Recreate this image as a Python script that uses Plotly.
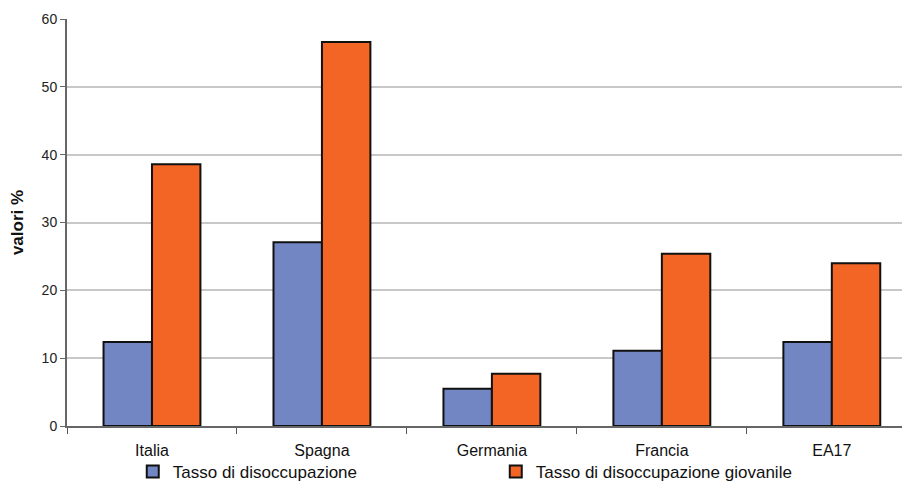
import plotly.graph_objects as go

categories = ["Italia", "Spagna", "Germania", "Francia", "EA17"]
tasso = [12.4, 27.1, 5.5, 11.1, 12.4]
tasso_giovanile = [38.6, 56.6, 7.7, 25.4, 24.0]
y_ticks = [0, 10, 20, 30, 40, 50, 60]

fig = go.Figure()
fig.add_trace(go.Bar(
    x=categories, y=tasso, name="Tasso di disoccupazione",
    marker=dict(color="#7286C3", line=dict(color="#111111", width=2)),
))
fig.add_trace(go.Bar(
    x=categories, y=tasso_giovanile, name="Tasso di disoccupazione giovanile",
    marker=dict(color="#F26524", line=dict(color="#111111", width=2)),
))

# page body has an 8px default margin, so the figure is sized/offset to compensate
fig.update_layout(
    width=902, height=475,
    margin=dict(l=59, r=0, t=11, b=57, autoexpand=False),
    paper_bgcolor="white", plot_bgcolor="white",
    barmode="group", bargap=0.43, bargroupgap=0.0,
    font=dict(family="Liberation Sans, Arial, sans-serif", color="#222222"),
    showlegend=True,
    legend=dict(
        orientation="h", x=0.078, xanchor="left", y=-0.113, yanchor="middle",
        bgcolor="rgba(0,0,0,0)",
        font=dict(size=17, color="#111111"), entrywidth=318, entrywidthmode="pixels",
        itemwidth=30, tracegroupgap=0,
    ),
    xaxis=dict(
        range=[-0.5, 4.46], showline=True, linecolor="#666666", linewidth=2,
        ticks="outside", tickson="boundaries", ticklen=6, tickcolor="#555555",
        tickfont=dict(size=16, color="#111111"), showgrid=False,
        ticklabelstandoff=9,
    ),
    yaxis=dict(
        range=[0, 60], tickvals=y_ticks, showline=True, linecolor="#666666", linewidth=2,
        ticks="outside", ticklen=5, tickcolor="#666666",
        tickfont=dict(size=14, color="#222222"),
        showgrid=True, gridcolor="#C8C8C8", gridwidth=1.5,
        title=dict(text="<b>valori %</b>", font=dict(size=17, color="#111111"), standoff=14),
        zeroline=False,
    ),
)

fig.write_html("out.html")
